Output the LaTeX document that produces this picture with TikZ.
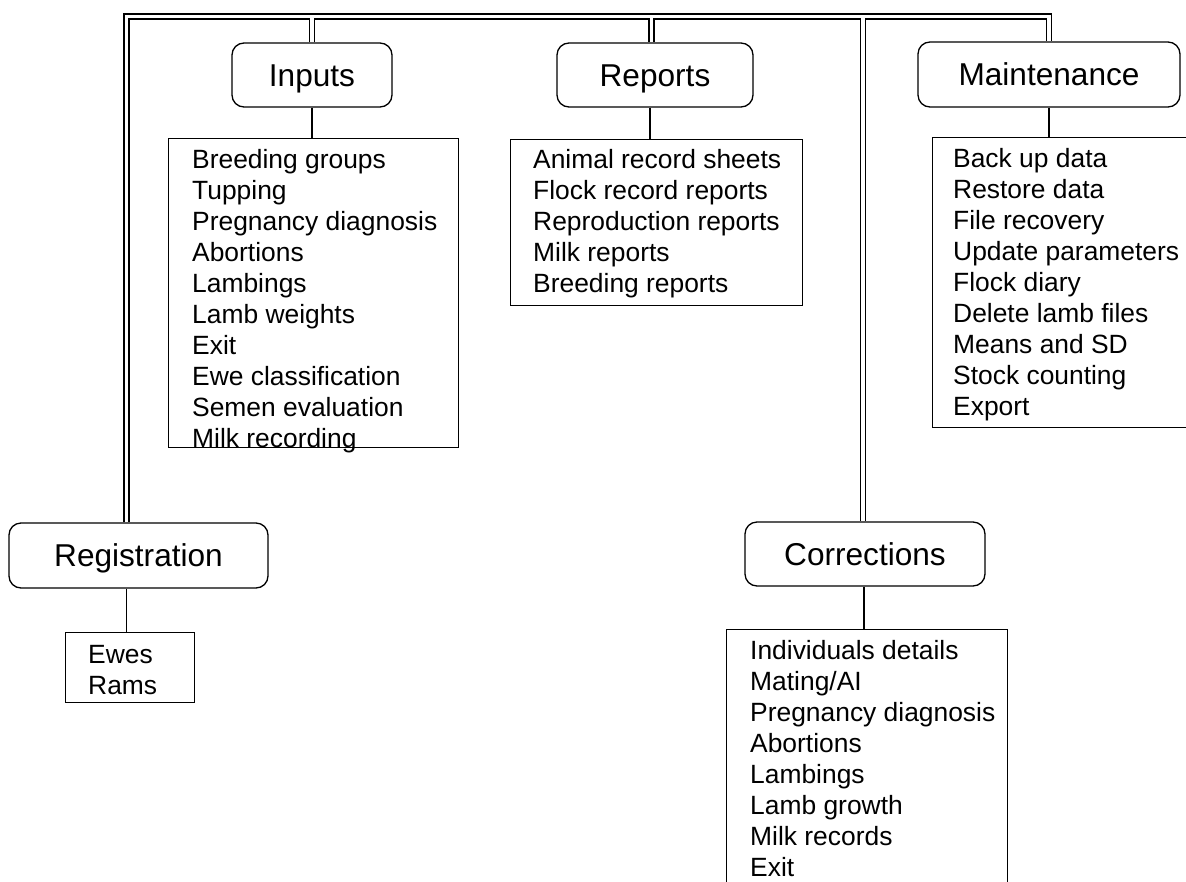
\documentclass[tikz,border=0pt]{standalone}
\usepackage{fontspec}
\setmainfont{Liberation Sans}
\begin{document}
\begin{tikzpicture}[x=1pt,y=-1pt,
  head/.style={draw, line width=1.3pt, rounded corners=12pt, inner sep=0pt,
    font=\fontsize{31.6}{36}\selectfont, text height=22.6pt, text depth=0pt},
  listbox/.style={draw, line width=1.3pt, inner sep=0pt, anchor=north west},
  item/.style={anchor=base west, inner sep=0pt, font=\fontsize{26.4}{31}\selectfont},
  dbl/.style={double, double distance=3.8pt, line width=1.2pt, line join=miter},
  link/.style={line width=1.3pt}]
\useasboundingbox (0,0) rectangle (1186,881);
\clip (0,0) rectangle (1186,881);

% header boxes
\node[head, minimum width=160pt, minimum height=64pt] (inputs) at (312,75) {Inputs};
\node[head, minimum width=196pt, minimum height=64pt] (reports) at (655,75) {Reports};
\node[head, minimum width=262pt, minimum height=65pt] (maint) at (1049,74.5) {Maintenance};
\node[head, minimum width=259pt, minimum height=65pt] (reg) at (138.5,555.5) {Registration};
\node[head, minimum width=240pt, minimum height=64pt] (corr) at (865,554) {Corrections};

% list boxes
\node[listbox, minimum width=290pt, minimum height=309pt] (inl) at (168,138) {};
\node[listbox, minimum width=292pt, minimum height=166pt] (repl) at (510,139) {};
\node[listbox, minimum width=290pt, minimum height=290pt] (maintl) at (932,137) {};
\node[listbox, minimum width=129pt, minimum height=70pt] (regl) at (65,632) {};
\node[listbox, minimum width=281pt, minimum height=290pt] (corrl) at (726,629) {};

% list items
\foreach \t [count=\k from 0] in {Breeding groups, Tupping, Pregnancy diagnosis, Abortions, Lambings, Lamb weights, Exit, Ewe classification, Semen evaluation, Milk recording}
  \node[item] (in\k) at (192,168+31*\k) {\t};
\foreach \t [count=\k from 0] in {Animal record sheets, Flock record reports, Reproduction reports, Milk reports, Breeding reports}
  \node[item] (rp\k) at (533,168+31*\k) {\t};
\foreach \t [count=\k from 0] in {Back up data, Restore data, File recovery, Update parameters, Flock diary, Delete lamb files, Means and SD, Stock counting, Export}
  \node[item] (mt\k) at (953,167+31*\k) {\t};
\foreach \t [count=\k from 0] in {Ewes, Rams}
  \node[item] (rg\k) at (88,663+31*\k) {\t};
\foreach \t [count=\k from 0] in {Individuals details, Mating/AI, Pregnancy diagnosis, Abortions, Lambings, Lamb growth, Milk records, Exit}
  \node[item] (cr\k) at (750,659+31*\k) {\t};

% double-line tree
\coordinate (tl) at (126.5,16.5);
\coordinate (jn) at (0,18.4);
\draw[dbl] (tl |- reg.north) -- (tl) -- (maint.north |- tl) -- (maint.north);
\draw[dbl] (inputs.north |- jn) -- (inputs.north);
\draw[dbl] ([xshift=-3.5pt]reports.north |- jn) -- ([xshift=-3.5pt]reports.north);
\draw[dbl] ([xshift=-2pt]corr.north |- jn) -- ([xshift=-2pt]corr.north);

% single links
\draw[link] (inputs.south) -- (inputs.south |- inl.north);
\draw[link] ([xshift=-5pt]reports.south) -- ([xshift=-5pt]reports.south |- repl.north);
\draw[link] (maint.south) -- (maint.south |- maintl.north);
\draw[link] (tl |- reg.south) -- (tl |- regl.north);
\draw[link] ([xshift=-1pt]corr.south) -- ([xshift=-1pt]corr.south |- corrl.north);
\end{tikzpicture}
\end{document}
